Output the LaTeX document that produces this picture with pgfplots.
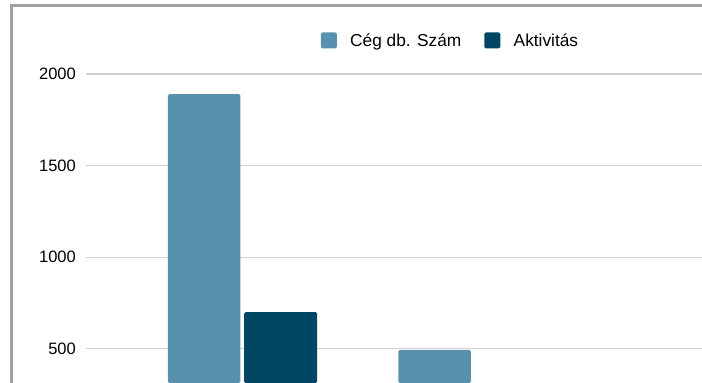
\documentclass[border=0pt]{standalone}
\usepackage{pgfplots}
\pgfplotsset{compat=1.18}
\usepackage{fontspec}
\setmainfont{Liberation Sans}
\definecolor{cegc}{RGB}{88,145,173}
\definecolor{aktc}{RGB}{0,69,98}
\definecolor{bordc}{RGB}{160,160,160}
\definecolor{gridc}{RGB}{210,210,210}
\begin{document}
\begin{tikzpicture}
\useasboundingbox (0pt,0pt) rectangle (702pt,383pt);
\fill[white] (0pt,0pt) rectangle (702pt,383pt);
\begin{axis}[
  at={(86pt,0pt)}, anchor=south west,
  scale only axis, width=616pt, height=383pt,
  xmin=86, xmax=702, ymin=312.8, ymax=2404.1,
  axis line style={draw=none},
  major tick length=0pt,
  xtick=\empty,
  ytick={500,1000,1500,2000},
  ymajorgrids, grid style={color=gridc, line width=1.2pt},
  /pgf/number format/assume math mode=true,
  /pgf/number format/set thousands separator={},
  yticklabel style={font=\fontsize{16.5}{19}\selectfont, inner sep=0pt, anchor=east, xshift=-10pt},
  legend columns=2,
  legend style={at={(0.381,0.8943)}, anchor=west, draw=none, fill=none,
    inner sep=0pt, font=\fontsize{17.3}{19}\selectfont,
    nodes={inner sep=0pt, anchor=west},
    /tikz/every odd column/.append style={column sep=13.3pt},
    /tikz/every even column/.append style={column sep=23pt}},
  legend image code/.code={\fill[#1, draw=none] (0pt,-8pt) rectangle (16pt,8pt);},
]
\addplot[ybar, bar width=72.5, bar shift=0pt, fill=cegc, draw=none, rounded corners=1.5pt]
  coordinates {(204.2,1890) (434.6,493)};
\addlegendentry{Cég db. Szám}
\addplot[ybar, bar width=73, bar shift=0pt, fill=aktc, draw=none, rounded corners=1.5pt]
  coordinates {(280.7,700)};
\addlegendentry{Aktivitás}
\end{axis}
\draw[bordc, line width=2.7pt] (11.35pt,0pt) -- (11.35pt,377.65pt) -- (702pt,377.65pt);
\end{tikzpicture}
\end{document}
